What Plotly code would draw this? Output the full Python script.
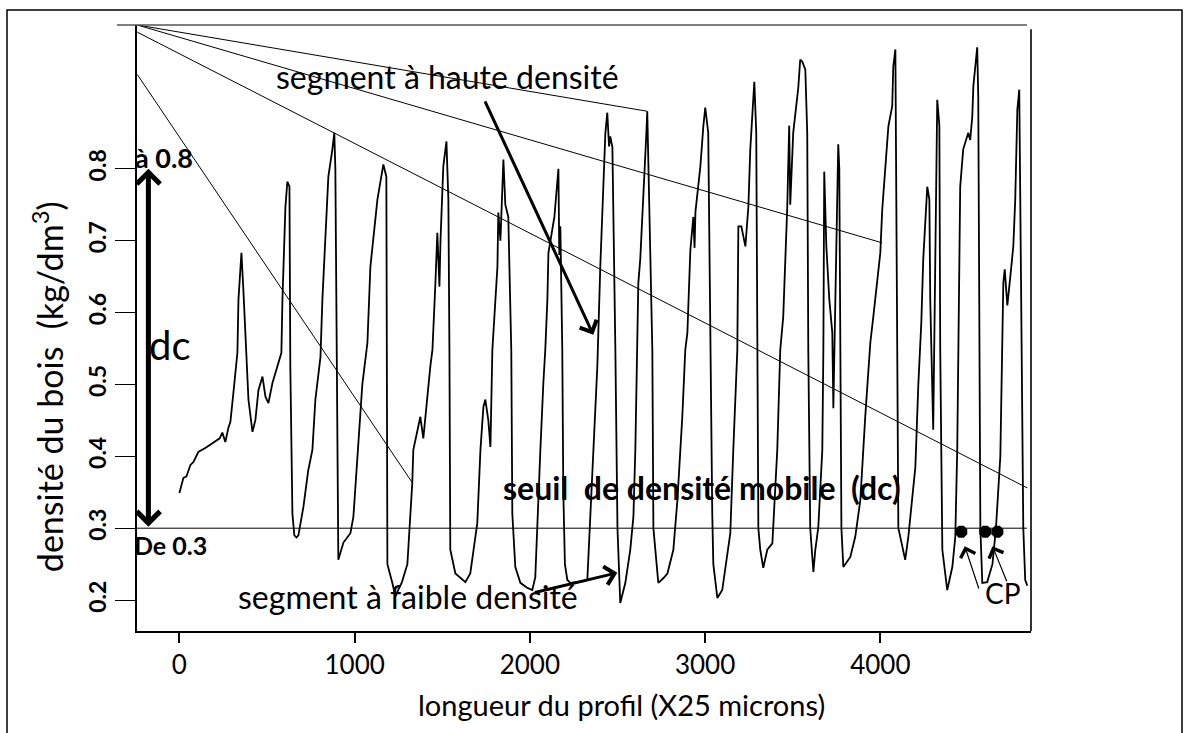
import plotly.graph_objects as go

# ---- density profile (x in profile units, y in kg/dm3) ----
profile_x = [0, 23, 40, 63, 80, 108, 150, 194, 230, 245, 262, 280, 291, 308, 320, 331, 337, 345, 354, 365,
             382, 394, 417, 434, 451, 474, 491, 508, 531, 559, 582, 588, 605, 616, 628, 633, 645, 656, 668, 679,
             696, 708, 735, 759, 776, 805, 816, 833, 850, 873, 884, 890, 902, 907, 936, 976, 993, 1021, 1044, 1073,
             1090, 1130, 1158, 1164, 1181, 1187, 1215, 1233, 1250, 1270, 1301, 1318, 1329, 1335, 1358, 1375, 1392, 1415, 1432, 1444,
             1449, 1461, 1472, 1484, 1490, 1501, 1506, 1524, 1535, 1541, 1546, 1575, 1615, 1632, 1660, 1678, 1700, 1718, 1735, 1746,
             1763, 1775, 1786, 1815, 1820, 1832, 1840, 1849, 1860, 1877, 1894, 1900, 1917, 1946, 1986, 2014, 2031, 2043, 2060, 2077,
             2088, 2100, 2106, 2140, 2163, 2168, 2174, 2185, 2191, 2200, 2214, 2231, 2300, 2328, 2345, 2362, 2385, 2402, 2419, 2431,
             2442, 2452, 2459, 2471, 2488, 2500, 2516, 2530, 2545, 2573, 2591, 2602, 2613, 2619, 2630, 2648, 2665, 2670, 2682, 2699,
             2705, 2733, 2760, 2785, 2819, 2842, 2870, 2887, 2899, 2916, 2933, 2940, 2945, 2973, 2990, 3001, 3018, 3030, 3041, 3047,
             3070, 3098, 3115, 3144, 3161, 3184, 3190, 3207, 3230, 3247, 3258, 3275, 3281, 3292, 3298, 3304, 3315, 3332, 3355, 3384,
             3412, 3429, 3446, 3469, 3480, 3486, 3503, 3532, 3543, 3555, 3572, 3583, 3589, 3600, 3612, 3618, 3629, 3646, 3669, 3675,
             3680, 3692, 3709, 3726, 3732, 3738, 3750, 3760, 3766, 3772, 3778, 3789, 3829, 3857, 3886, 3914, 3931, 3943, 3960, 3983,
             4000, 4011, 4028, 4046, 4068, 4074, 4086, 4091, 4097, 4103, 4114, 4142, 4160, 4182, 4200, 4217, 4228, 4234, 4245, 4257,
             4268, 4280, 4285, 4302, 4310, 4325, 4337, 4342, 4354, 4382, 4411, 4428, 4439, 4445, 4450, 4456, 4473, 4491, 4502, 4513,
             4525, 4531, 4553, 4559, 4565, 4571, 4582, 4610, 4640, 4660, 4685, 4696, 4702, 4710, 4725, 4742, 4759, 4770, 4782, 4793,
             4799, 4810, 4816, 4827, 4839]
profile_y = [0.349, 0.370, 0.372, 0.388, 0.392, 0.406, 0.412, 0.419, 0.425, 0.433, 0.420, 0.440, 0.448, 0.488, 0.520, 0.544, 0.618, 0.650, 0.683, 0.632,
             0.552, 0.479, 0.434, 0.451, 0.492, 0.511, 0.483, 0.474, 0.502, 0.525, 0.544, 0.618, 0.747, 0.782, 0.775, 0.525, 0.320, 0.290, 0.287, 0.290,
             0.316, 0.330, 0.380, 0.409, 0.479, 0.538, 0.618, 0.711, 0.789, 0.827, 0.850, 0.800, 0.450, 0.256, 0.280, 0.293, 0.316, 0.410, 0.500, 0.558,
             0.664, 0.757, 0.803, 0.806, 0.789, 0.250, 0.224, 0.205, 0.215, 0.225, 0.250, 0.316, 0.363, 0.409, 0.433, 0.455, 0.425, 0.488, 0.525, 0.548,
             0.572, 0.641, 0.711, 0.636, 0.700, 0.757, 0.803, 0.838, 0.757, 0.548, 0.270, 0.237, 0.228, 0.225, 0.237, 0.270, 0.307, 0.409, 0.469, 0.479,
             0.450, 0.413, 0.548, 0.664, 0.739, 0.700, 0.760, 0.813, 0.750, 0.733, 0.548, 0.320, 0.246, 0.224, 0.217, 0.214, 0.232, 0.316, 0.409, 0.502,
             0.548, 0.618, 0.683, 0.733, 0.800, 0.680, 0.720, 0.550, 0.350, 0.250, 0.228, 0.224, 0.226, 0.228, 0.316, 0.409, 0.525, 0.664, 0.789, 0.850,
             0.878, 0.831, 0.845, 0.830, 0.548, 0.300, 0.196, 0.210, 0.224, 0.270, 0.316, 0.409, 0.548, 0.641, 0.674, 0.757, 0.850, 0.880, 0.757, 0.548,
             0.300, 0.224, 0.230, 0.237, 0.270, 0.339, 0.455, 0.548, 0.572, 0.687, 0.733, 0.690, 0.740, 0.803, 0.859, 0.885, 0.850, 0.548, 0.320, 0.250,
             0.203, 0.214, 0.246, 0.293, 0.409, 0.548, 0.720, 0.720, 0.692, 0.747, 0.827, 0.896, 0.921, 0.850, 0.548, 0.300, 0.270, 0.245, 0.270, 0.279,
             0.409, 0.548, 0.594, 0.747, 0.860, 0.750, 0.850, 0.913, 0.952, 0.949, 0.938, 0.850, 0.548, 0.300, 0.260, 0.239, 0.270, 0.301, 0.409, 0.548,
             0.796, 0.692, 0.618, 0.572, 0.467, 0.550, 0.750, 0.834, 0.800, 0.548, 0.300, 0.246, 0.260, 0.288, 0.339, 0.455, 0.525, 0.558, 0.594, 0.641,
             0.683, 0.743, 0.803, 0.859, 0.887, 0.942, 0.966, 0.757, 0.548, 0.300, 0.288, 0.256, 0.288, 0.339, 0.385, 0.500, 0.548, 0.586, 0.674, 0.733,
             0.775, 0.757, 0.618, 0.437, 0.600, 0.896, 0.860, 0.548, 0.270, 0.214, 0.246, 0.288, 0.409, 0.548, 0.655, 0.775, 0.827, 0.840, 0.850, 0.840,
             0.873, 0.915, 0.969, 0.900, 0.548, 0.300, 0.224, 0.225, 0.250, 0.300, 0.400, 0.548, 0.641, 0.660, 0.610, 0.650, 0.692, 0.757, 0.882, 0.910,
             0.757, 0.548, 0.300, 0.228, 0.220]

# ---- annotation data ----
threshold_low = 0.3           # "De 0.3"
threshold_high = 0.8          # "à 0.8"
cp_x = [4462, 4599, 4668]     # CP points on the threshold
cp_y = [0.295, 0.295, 0.295]
# segment lines: (x0, y0, x1, y1)
segment_lines = [
    (-240, 1.000, 2670, 0.880),
    (-240, 1.000, 4010, 0.697),
    (-240, 0.990, 4839, 0.356),
    (-240, 0.931, 1330, 0.363),
]
x_ticks = [0, 1000, 2000, 3000, 4000]
y_ticks = [0.2, 0.3, 0.4, 0.5, 0.6, 0.7, 0.8]

FONT = "Lato"

fig = go.Figure()
fig.add_trace(go.Scatter(x=profile_x, y=profile_y, mode="lines",
                         line=dict(color="black", width=1.8), hoverinfo="skip"))
fig.add_trace(go.Scatter(x=cp_x, y=cp_y, mode="markers",
                         marker=dict(color="black", size=13, symbol="octagon"), hoverinfo="skip"))

shapes = []
for (x0, y0, x1, y1) in segment_lines:
    shapes.append(dict(type="line", xref="x", yref="y", x0=x0, y0=y0, x1=x1, y1=y1,
                       line=dict(color="black", width=1)))
# threshold line
shapes.append(dict(type="line", xref="paper", yref="y", x0=0, x1=0.9955, y0=threshold_low, y1=threshold_low,
                   line=dict(color="black", width=1)))
# top line (gray)
shapes.append(dict(type="line", xref="paper", yref="paper", x0=-0.0224, x1=0.9955, y0=1.0, y1=1.0,
                   line=dict(color="#555555", width=1.6)))
# right frame line
shapes.append(dict(type="line", xref="paper", yref="paper", x0=1.0, x1=1.0, y0=0, y1=0.993,
                   line=dict(color="black", width=1.6)))
# outer frame
shapes.append(dict(type="rect", xref="paper", yref="paper", x0=-0.1454, x1=1.1689, y0=-0.2, y1=1.0248,
                   line=dict(color="black", width=1.5), fillcolor="rgba(0,0,0,0)"))

annotations = []
# dc double arrow
annotations.append(dict(x=-177, y=threshold_high, ax=-177, ay=threshold_low, xref="x", yref="y",
                        axref="x", ayref="y", text="", showarrow=True, arrowhead=4, startarrowhead=4,
                        arrowside="end+start", arrowwidth=5, arrowsize=0.9, startarrowsize=0.9, arrowcolor="black"))
# haute densité arrow
annotations.append(dict(x=2362, y=0.569, ax=1740, ay=0.896, xref="x", yref="y", axref="x", ayref="y",
                        text="", showarrow=True, arrowhead=4, arrowwidth=3, arrowsize=1.2, arrowcolor="black"))
# faible densité arrow
annotations.append(dict(x=2499, y=0.238, ax=2020, ay=0.210, xref="x", yref="y", axref="x", ayref="y",
                        text="", showarrow=True, arrowhead=4, arrowwidth=3, arrowsize=1.2, arrowcolor="black"))
# CP arrows
annotations.append(dict(x=4482, y=0.275, ax=4565, ay=0.214, xref="x", yref="y", axref="x", ayref="y",
                        text="", showarrow=True, arrowhead=4, arrowwidth=1.2, arrowsize=2.5, arrowcolor="black"))
annotations.append(dict(x=4640, y=0.275, ax=4725, ay=0.224, xref="x", yref="y", axref="x", ayref="y",
                        text="", showarrow=True, arrowhead=4, arrowwidth=1.2, arrowsize=2.5, arrowcolor="black"))

def txt(x, y, s, size, bold=False, xref="x", yref="y", angle=0, xanchor="center"):
    annotations.append(dict(x=x, y=y, xref=xref, yref=yref, text=s, showarrow=False, textangle=angle,
                            xanchor=xanchor, yanchor="middle",
                            font=dict(family=FONT, size=size, color="black",
                                      weight="bold" if bold else "normal")))

txt(1529, 0.928, "segment à haute densité", 32)
txt(1307, 0.205, "segment à faible densité", 32)
txt(2984, 0.356, "seuil&nbsp;&nbsp;de densité mobile&nbsp;&nbsp;(dc)", 32, bold=True)
txt(4702, 0.21, "CP", 28)
txt(-55, 0.555, "dc", 40)
txt(-0.004, 0.782, "<b>à 0.8</b>", 27, bold=True, xref="paper", yref="paper", xanchor="left")
txt(-0.006, 0.142, "<b>De 0.3</b>", 25, bold=True, xref="paper", yref="paper", xanchor="left")
# axis titles
txt(0.5425, -0.122, "longueur du profil (X25 microns)", 29, xref="paper", yref="paper")
txt(-0.0996, 0.404, "densité du bois&nbsp;&nbsp;(kg/dm<sup>3</sup>)", 34, xref="paper", yref="paper", angle=-90)

fig.update_layout(
    width=1187, height=733,
    margin=dict(l=137, r=156, t=25, b=102),
    paper_bgcolor="white", plot_bgcolor="white",
    showlegend=False,
    shapes=shapes, annotations=annotations,
    xaxis=dict(range=[-242, 4860], tickvals=x_ticks, ticktext=[str(v) for v in x_ticks],
               showgrid=False, zeroline=False, showline=True, linecolor="black", linewidth=1.6,
               ticks="outside", ticklen=10, tickwidth=1.5, tickcolor="black",
               tickfont=dict(family=FONT, size=26, color="black")),
    yaxis=dict(range=[0.157, 1.0], tickvals=y_ticks, ticktext=[f"<b>{v:.1f}</b>" for v in y_ticks],
               showgrid=False, zeroline=False, showline=True, linecolor="black", linewidth=1.6,
               ticks="outside", ticklen=20, tickwidth=1.2, tickcolor="black", tickangle=-90,
               tickfont=dict(family=FONT, size=23, color="black", weight="bold")),
)

fig.write_html("out.html")
